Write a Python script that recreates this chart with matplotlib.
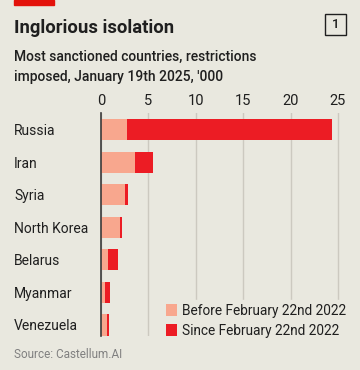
import matplotlib
matplotlib.use("Agg")
import matplotlib.pyplot as plt
import matplotlib.patches as mpatches
import numpy as np

countries = ["Russia", "Iran", "Syria", "North Korea", "Belarus", "Myanmar", "Venezuela"]
before_2022 = [2.7, 3.6, 2.55, 2.0, 0.75, 0.45, 0.6]
since_2022 = [21.7, 1.9, 0.3, 0.2, 1.0, 0.55, 0.2]
xticks = [0, 5, 10, 15, 20, 25]

BG = "#E9E8DF"
LIGHT = "#F8A78E"
RED = "#EC1C24"
GRID = "#CCC9C0"
TXT = "#1F1F1F"

plt.rcParams["font.family"] = ["Roboto", "DejaVu Sans"]

W, H = 360, 370
fig = plt.figure(figsize=(W / 100, H / 100), dpi=100, facecolor=BG)

# axes box in pixels (from top-left)
left, right, top, bottom = 101, 342.7, 113, 336
ax = fig.add_axes([left / W, 1 - bottom / H, (right - left) / W, (bottom - top) / H])
ax.set_facecolor(BG)

y = np.arange(len(countries))
ax.barh(y, before_2022, height=0.65, color=LIGHT, label="Before February 22nd 2022", zorder=3)
ax.barh(y, since_2022, left=before_2022, height=0.65, color=RED, label="Since February 22nd 2022", zorder=3)

ax.set_xlim(0, 25.5)
ax.set_ylim(6.34, -0.52)
ax.set_xticks(xticks)
ax.xaxis.tick_top()
ax.tick_params(axis="x", length=0, pad=3.5, labelsize=10.5, colors=TXT)
ax.set_yticks(y)
ax.set_yticklabels(countries)
ax.tick_params(axis="y", length=0, pad=(left - 14) * 0.72, labelsize=10, colors=TXT)
for lab in ax.get_yticklabels():
    lab.set_horizontalalignment("left")

ax.grid(axis="x", color=GRID, linewidth=1, zorder=0)
for s in ["top", "right", "bottom"]:
    ax.spines[s].set_visible(False)
ax.spines["left"].set_color("#3A3A3A")
ax.spines["left"].set_linewidth(1.2)
ax.spines["left"].set_zorder(4)

leg = ax.legend(loc="lower left", bbox_to_anchor=(162 / W, 1 - 342 / H), bbox_transform=fig.transFigure,
                frameon=True, facecolor=BG, edgecolor=BG, framealpha=1, fontsize=9.8,
                handlelength=0.8, handleheight=0.95, handletextpad=0.4, labelspacing=0.45,
                borderpad=0.3, borderaxespad=0)
for t in leg.get_texts():
    t.set_color(TXT)
leg.set_zorder(5)

# header
fig.patches.append(mpatches.Rectangle((14 / W, 1 - 5 / H), 40 / W, 5 / H, transform=fig.transFigure,
                                      color="#E3120B", zorder=5))
fig.text(14 / W, 1 - 33 / H, "Inglorious isolation", fontsize=13.3, fontweight="bold", color=TXT,
         va="baseline", ha="left")
fig.text(14 / W, 1 - 61 / H, "Most sanctioned countries, restrictions", fontsize=10, fontweight="medium",
         color=TXT, va="baseline", ha="left")
fig.text(14 / W, 1 - 81 / H, "imposed, January 19th 2025, '000", fontsize=10, fontweight="medium",
         color=TXT, va="baseline", ha="left")
fig.patches.append(mpatches.Rectangle((324.5 / W, 1 - 35 / H), 21.5 / W, 21.5 / H, transform=fig.transFigure,
                                      facecolor="none", edgecolor=TXT, linewidth=1))
fig.text(335.2 / W, 1 - 24.5 / H, "1", fontsize=9.5, fontweight="medium", color=TXT, ha="center", va="center")
fig.text(14 / W, 1 - 358 / H, "Source: Castellum.AI", fontsize=8.5, color="#808080", va="baseline", ha="left")

fig.savefig("out.png", dpi=100, facecolor=BG)
